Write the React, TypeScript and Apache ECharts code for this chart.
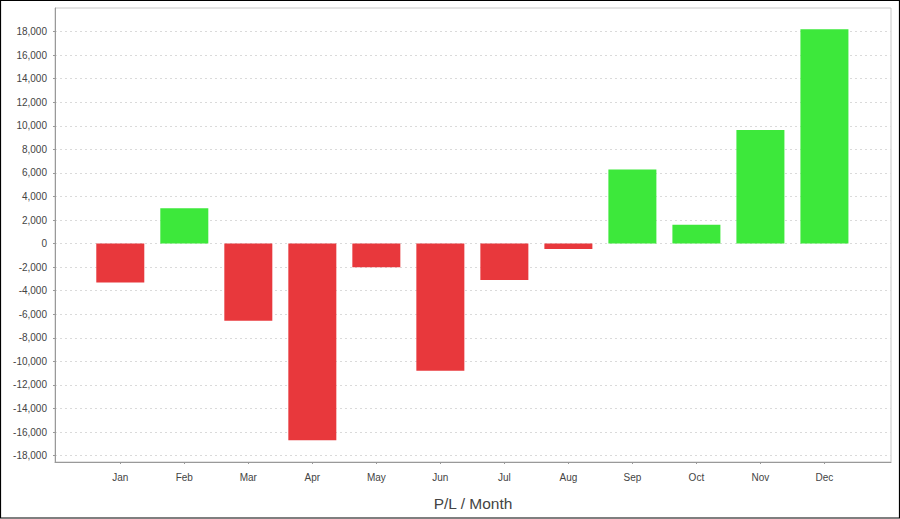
import React, { useEffect, useRef } from "react";
import * as echarts from "echarts";

const months = ["Jan", "Feb", "Mar", "Apr", "May", "Jun", "Jul", "Aug", "Sep", "Oct", "Nov", "Dec"];
const plValues = [-3300, 3000, -6550, -16700, -2000, -10800, -3100, -450, 6300, 1600, 9650, 18200];
const yTicks = [-18000, -16000, -14000, -12000, -10000, -8000, -6000, -4000, -2000, 0, 2000, 4000, 6000, 8000, 10000, 12000, 14000, 16000, 18000];
const xTicks = months.map((_, i) => i);

const RED = "#e8383c";
const GREEN = "#3de83b";

export default function App() {
  const ref = useRef<HTMLDivElement>(null);
  useEffect(() => {
    if (!ref.current) return;
    const chart = echarts.init(ref.current, undefined, { renderer: "svg" });
    const labelFont = { fontFamily: "Liberation Sans, Arial, sans-serif", fontSize: 10, color: "#444" };
    chart.setOption({
      animation: false,
      backgroundColor: "#fff",
      grid: {
        left: 55,
        right: 9,
        top: 8,
        bottom: 57,
        show: true,
        borderColor: "#c8c8c8",
        borderWidth: 1,
        containLabel: false,
      },
      xAxis: {
        type: "value",
        min: -1.02,
        max: 12.04,
        name: "P/L / Month",
        nameLocation: "middle",
        nameGap: 33,
        nameTextStyle: { fontFamily: "Liberation Sans, Arial, sans-serif", fontSize: 15.5, color: "#444" },
        axisLine: { show: true, onZero: false, lineStyle: { color: "#999", width: 1 } },
        axisTick: { show: true, length: 2, lineStyle: { color: "#999" }, customValues: xTicks },
        axisLabel: {
          ...labelFont,
          margin: 10,
          customValues: xTicks,
          formatter: (v: number) => months[Math.round(v)] ?? "",
        },
        splitLine: { show: false },
      },
      yAxis: {
        type: "value",
        min: -18540,
        max: 20000,
        axisLine: { show: true, onZero: false, lineStyle: { color: "#999", width: 1 } },
        axisTick: { show: true, length: 2, lineStyle: { color: "#999" }, customValues: yTicks },
        axisLabel: {
          ...labelFont,
          margin: 8,
          customValues: yTicks,
          formatter: (v: number) => v.toLocaleString("en-US"),
        },
        splitLine: { show: true, lineStyle: { color: "#dadada", type: [2, 3], width: 1 } },
      },
      series: [
        {
          type: "bar",
          barWidth: 48,
          data: plValues.map((v, i) => ({
            value: [i, v],
            itemStyle: { color: v < 0 ? RED : GREEN },
          })),
        },
      ],
      graphic: [
        {
          type: "rect",
          shape: { x: 0.5, y: 0.5, width: 899, height: 517.5 },
          style: { fill: "none", stroke: "#000", lineWidth: 1.2 },
          silent: true,
        },
      ],
    });
    return () => chart.dispose();
  }, []);
  return (
    <div
      ref={ref}
      style={{ position: "fixed", left: 0, top: 0, width: 900, height: 519 }}
    />
  );
}
